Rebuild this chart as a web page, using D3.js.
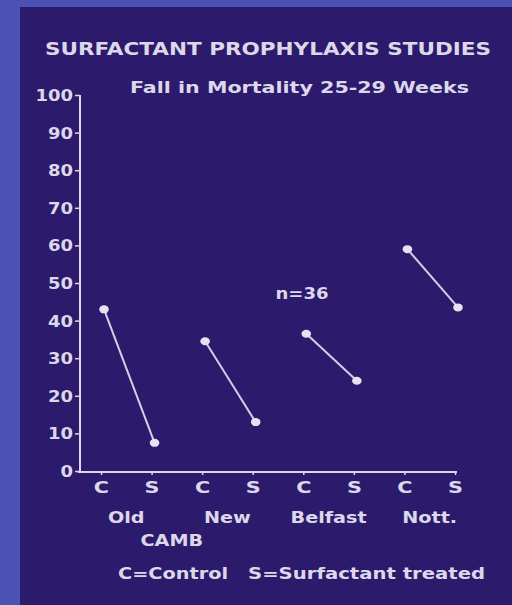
<!DOCTYPE html>
<html>
<head>
<meta charset="utf-8">
<script src="https://cdn.jsdelivr.net/npm/d3@7"></script>
<style>
  body { margin: 0; background: #4a52b4; }
  svg { display: block; }
  text { font-family: "DejaVu Sans", "Liberation Sans", sans-serif; font-weight: bold; fill: #dcd8ea; }
</style>
</head>
<body>
<svg id="chart"></svg>
<script>
const studies = ["Old", "New", "Belfast", "Nott."];
const control = [43, 34.5, 36.5, 59];
const surfactant = [7.5, 13, 24, 43.5];
const armLabels = ["C", "S"];
const yTicks = [0, 10, 20, 30, 40, 50, 60, 70, 80, 90, 100];

const W = 512, H = 605;
const ink = "#dcd8ea";
const K = 1.2; // the slide lettering is an extended face; stretch glyphs sideways

const svg = d3.select("#chart").attr("width", W).attr("height", H);

// slide background
svg.append("rect").attr("x", 20).attr("y", 7).attr("width", W - 20).attr("height", H - 7)
  .attr("fill", "#2c1b6c");

// put text at (px,py) and widen it by K
function wide(sel, px, py) {
  return sel.attr("x", 0).attr("y", 0)
    .attr("transform", `translate(${px},${py}) scale(${K},1)`);
}

const slots = studies.flatMap(s => armLabels.map(a => s + "|" + a));
const x = d3.scalePoint().domain(slots).range([101, 455]);
const y = d3.scaleLinear().domain([0, 100]).range([471, 95]);

// axes
const yAxis = d3.axisLeft(y).tickValues(yTicks).tickSize(5).tickSizeOuter(0);
const gy = svg.append("g").attr("transform", "translate(80,0)").call(yAxis);
gy.select(".domain").remove();
gy.selectAll("line").attr("stroke", ink).attr("stroke-width", 1.5);
gy.selectAll("text").attr("fill", ink).style("font-size", "15px")
  .attr("x", null).attr("dy", "0.36em")
  .attr("transform", `translate(-7,0) scale(${K},1)`);

svg.append("line").attr("x1", 80).attr("x2", 80).attr("y1", y(100)).attr("y2", y(0) + 1)
  .attr("stroke", ink).attr("stroke-width", 2);

const xAxis = d3.axisBottom(x).tickSize(3).tickSizeOuter(0)
  .tickFormat(d => d.split("|")[1]);
const gx = svg.append("g").attr("transform", `translate(0,${y(0) + 1})`).call(xAxis);
gx.select(".domain").remove();
gx.selectAll("line").attr("stroke", ink).attr("stroke-width", 1.5);
gx.selectAll("text").attr("fill", ink).style("font-size", "16px")
  .attr("y", null).attr("dy", null)
  .attr("transform", `translate(0,21) scale(${K + 0.1},1)`);

svg.append("line").attr("x1", 78).attr("x2", 457).attr("y1", y(0) + 1).attr("y2", y(0) + 1)
  .attr("stroke", ink).attr("stroke-width", 2);

// study labels
svg.selectAll(".study").data(studies).enter().append("text")
  .attr("class", "study")
  .attr("text-anchor", "middle")
  .style("font-size", "16px")
  .text(d => d)
  .each(function (d) {
    wide(d3.select(this), (x(d + "|C") + x(d + "|S")) / 2, 523);
  });

wide(svg.append("text"), (x("Old|S") + x("New|C")) / 2 - 5, 546)
  .attr("text-anchor", "middle").style("font-size", "16px").text("CAMB");

// paired lines
const pairs = studies.map((s, i) => ({ s, c: control[i], t: surfactant[i] }));
const g = svg.append("g");
g.selectAll(".pair").data(pairs).enter().append("line")
  .attr("x1", d => x(d.s + "|C") + 3).attr("y1", d => y(d.c))
  .attr("x2", d => x(d.s + "|S") + 3).attr("y2", d => y(d.t))
  .attr("stroke", "#d4cfe8").attr("stroke-width", 2);

const pts = pairs.flatMap(d => [{ k: d.s + "|C", v: d.c }, { k: d.s + "|S", v: d.t }]);
g.selectAll("ellipse").data(pts).enter().append("ellipse")
  .attr("cx", d => x(d.k) + 3).attr("cy", d => y(d.v))
  .attr("rx", 4.8).attr("ry", 4)
  .attr("fill", "#e6e2f2");

// titles
svg.append("text").attr("x", 45).attr("y", 55).attr("textLength", 446)
  .attr("lengthAdjust", "spacingAndGlyphs").style("font-size", "17px")
  .text("SURFACTANT PROPHYLAXIS STUDIES");
svg.append("text").attr("x", 130).attr("y", 93).attr("textLength", 339)
  .attr("lengthAdjust", "spacingAndGlyphs").style("font-size", "15.5px")
  .text("Fall in Mortality 25-29 Weeks");

wide(svg.append("text"), 302, 299).attr("text-anchor", "middle")
  .style("font-size", "15px").text("n=36");

// legend
svg.append("text").attr("x", 118).attr("y", 579).attr("textLength", 110)
  .attr("lengthAdjust", "spacingAndGlyphs").style("font-size", "16px").text("C=Control");
svg.append("text").attr("x", 248).attr("y", 579).attr("textLength", 237)
  .attr("lengthAdjust", "spacingAndGlyphs").style("font-size", "16px").text("S=Surfactant treated");
</script>
</body>
</html>
